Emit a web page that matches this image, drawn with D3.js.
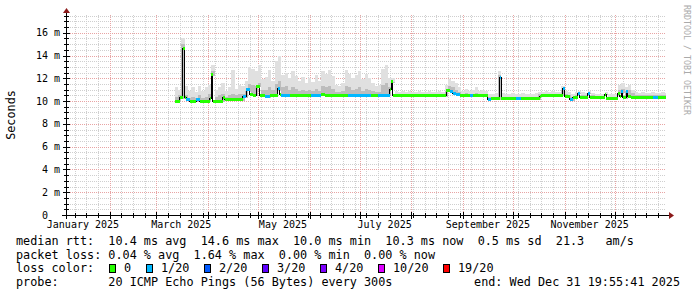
<!DOCTYPE html>
<html>
<head>
<meta charset="utf-8">
<script src="https://cdn.jsdelivr.net/npm/d3@7/dist/d3.min.js"></script>
<style>
  body { margin: 0; background: #fff; }
  svg text { font-family: "DejaVu Sans Mono", monospace; white-space: pre; }
</style>
</head>
<body>
<div id="chart"></div>
<script>
// median rtt: one entry per change, the day it starts, ms, lost pings out of 20
var medDay = ["2025-03-12","2025-03-15","2025-03-17","2025-03-18","2025-03-19","2025-03-21","2025-03-25","2025-03-27",
  "2025-04-02","2025-04-03","2025-04-04","2025-04-10","2025-04-11","2025-04-22","2025-04-24","2025-04-26","2025-04-28",
  "2025-04-30","2025-05-02","2025-05-05","2025-05-08","2025-05-13","2025-05-14","2025-05-15","2025-05-20","2025-06-02",
  "2025-06-08","2025-06-10","2025-06-24","2025-07-08","2025-07-12","2025-07-19","2025-07-20","2025-07-21","2025-08-22",
  "2025-08-24","2025-08-26","2025-08-28","2025-08-30","2025-09-05","2025-09-07","2025-09-16","2025-09-18","2025-09-23",
  "2025-09-24","2025-10-03","2025-10-06","2025-10-17","2025-10-18","2025-10-31","2025-11-01","2025-11-04","2025-11-06",
  "2025-11-09","2025-11-10","2025-11-15","2025-11-16","2025-11-25","2025-11-26","2025-12-03","2025-12-04","2025-12-05",
  "2025-12-06","2025-12-08","2025-12-09","2025-12-11","2025-12-24","2025-12-27"];
var medRtt = [10.0,10.3,14.6,10.3,10.1,10.0,10.1,10.0,
  10.2,12.3,10.0,10.3,10.1,10.4,11.0,10.6,10.5,
  11.3,10.5,10.4,10.5,11.1,10.6,10.5,10.5,10.5,
  10.6,10.5,10.5,10.5,10.5,11.0,11.7,10.45,10.9,
  10.8,10.7,10.6,10.5,10.5,10.5,10.1,10.2,12.1,
  10.2,10.2,10.2,10.4,10.5,11.1,10.4,10.1,10.3,
  10.7,10.3,10.7,10.3,10.6,10.25,10.7,10.4,10.8,
  10.3,10.8,10.4,10.3,10.3,10.3];
var medLoss = [0,0,0,0,1,0,1,0,
  0,0,0,0,0,1,1,0,0,
  0,0,1,0,1,0,1,0,1,
  0,0,1,0,1,0,0,0,0,
  1,1,1,0,1,0,1,0,1,
  0,1,0,0,0,1,0,1,0,
  1,0,1,0,0,0,0,0,1,
  0,1,0,0,1,0];

// smoke in 2 day bins from smokeStart: top of the light part and of the dark part (ms)
var smokeStart = "2025-03-12";
var smokeHi = [
  11.2,11.0,15.5,11.3,10.9,11.2,10.8,11.3,10.9,11.2,
  11.4,13.2,11.0,11.2,11.6,10.9,11.2,12.7,11.1,11.4,
  11.3,11.8,13.0,12.8,12.6,13.2,11.9,12.1,12.7,11.8,
  13.5,14.0,12.3,12.5,12.0,12.6,12.2,11.8,12.1,11.6,
  12.0,11.7,12.3,11.8,12.6,12.4,12.7,12.2,11.4,11.3,
  11.6,12.7,12.4,12.0,12.3,12.6,11.9,12.4,12.0,11.6,
  11.3,11.4,12.8,13.2,12.0,12.0,10.9,10.8,10.9,10.8,
  10.9,10.8,10.8,10.9,10.8,10.8,10.9,10.8,10.8,10.9,
  10.8,11.4,11.9,11.8,11.6,11.2,10.9,11.1,10.9,11.0,
  11.2,10.9,11.0,10.9,10.6,10.6,10.7,12.6,10.7,10.6,
  10.6,10.7,10.6,10.6,10.7,10.6,10.6,10.6,10.7,10.8,
  10.8,10.9,10.8,10.9,10.8,10.8,11.3,10.9,10.8,10.6,
  10.8,10.9,10.8,10.7,10.9,10.7,10.6,10.6,10.6,10.8,
  10.6,10.6,10.6,11.4,11.6,11.2,11.4,11.0,10.8,10.7,
  10.8,10.7,10.7,10.8,10.7,10.7,10.8,10.7];
var smokeCore = [
  10.4,10.5,15.0,10.5,10.3,10.4,10.3,10.5,10.3,10.4,
  10.6,12.6,10.4,10.5,10.6,10.4,10.5,10.6,10.5,10.6,
  10.6,10.9,11.5,11.4,11.3,11.6,11.0,11.0,11.2,11.0,
  11.5,11.8,11.2,11.3,11.0,11.2,11.1,10.9,11.0,10.9,
  11.0,10.9,11.1,10.9,11.3,11.2,11.3,11.1,10.8,10.8,
  10.9,11.3,11.2,11.0,11.1,11.2,10.9,11.1,11.0,10.9,
  10.8,10.8,11.4,11.6,11.2,11.5,10.6,10.6,10.6,10.6,
  10.6,10.6,10.6,10.6,10.6,10.6,10.6,10.6,10.6,10.6,
  10.6,10.9,11.3,11.2,11.0,10.8,10.6,10.7,10.6,10.6,
  10.7,10.6,10.6,10.6,10.4,10.4,10.4,12.3,10.4,10.4,
  10.4,10.4,10.4,10.4,10.4,10.4,10.4,10.4,10.4,10.6,
  10.6,10.6,10.6,10.6,10.6,10.6,11.0,10.6,10.5,10.4,
  10.5,10.6,10.5,10.5,10.6,10.5,10.4,10.4,10.4,10.5,
  10.4,10.4,10.4,11.0,11.1,10.9,11.0,10.7,10.5,10.5,
  10.5,10.5,10.5,10.5,10.5,10.5,10.5,10.5];

var yTicks = [0, 2, 4, 6, 8, 10, 12, 14, 16];
var xLabelMonths = ["2025-01-01", "2025-03-01", "2025-05-01", "2025-07-01", "2025-09-01", "2025-11-01"];

var lossNames = ["0", "1/20", "2/20", "3/20", "4/20", "10/20", "19/20"];
var lossColors = ["#26ff00", "#00b8ff", "#0059ff", "#5e00ff", "#7e00ff", "#dd00ff", "#ff0000"];

var legendLines = [
  "median rtt:  10.4 ms avg  14.6 ms max  10.0 ms min  10.3 ms now  0.5 ms sd  21.3   am/s",
  "packet loss: 0.04 % avg  1.64 % max  0.00 % min  0.00 % now",
  "loss color:",
  "probe:       20 ICMP Echo Pings (56 Bytes) every 300s"
];
var endText = "end: Wed Dec 31 19:55:41 2025";

var width = 697, height = 297;
var plot = {left: 66, right: 666, top: 15, bottom: 215};
var parse = d3.utcParse("%Y-%m-%d");

var svg = d3.select("#chart").append("svg")
    .attr("width", width)
    .attr("height", height);

var x = d3.scaleUtc()
    .domain([new Date(Date.UTC(2025, 0, 5, 19, 55, 41)), new Date(Date.UTC(2025, 11, 31, 19, 55, 41))])
    .range([plot.left, plot.right]);
var y = d3.scaleLinear()
    .domain([0, 17.56])
    .range([plot.bottom, plot.top]);

function px(v) { return Math.round(v) + 0.5; }

// grid: weeks and half ms dotted grey, months and 2 ms dotted red
var weeks = d3.utcSaturday.range(x.domain()[0], x.domain()[1]);
var months = d3.utcMonth.range(x.domain()[0], x.domain()[1]);
var halfMs = y.ticks(36).filter(function (v) { return v % 2 !== 0; });

var grid = svg.append("g").attr("shape-rendering", "crispEdges");
grid.selectAll(".vmin").data(weeks).enter().append("line")
    .attr("x1", function (d) { return px(x(d)); })
    .attr("x2", function (d) { return px(x(d)); })
    .attr("y1", plot.top).attr("y2", plot.bottom)
    .attr("stroke", "#cfcfcf").attr("stroke-dasharray", "1,1");
grid.selectAll(".hmin").data(halfMs).enter().append("line")
    .attr("x1", plot.left).attr("x2", plot.right)
    .attr("y1", function (d) { return px(y(d)); })
    .attr("y2", function (d) { return px(y(d)); })
    .attr("stroke", "#cfcfcf").attr("stroke-dasharray", "1,1");
grid.selectAll(".vmaj").data(months).enter().append("line")
    .attr("x1", function (d) { return px(x(d)); })
    .attr("x2", function (d) { return px(x(d)); })
    .attr("y1", plot.top).attr("y2", plot.bottom)
    .attr("stroke", "#e8a4a4").attr("stroke-dasharray", "1,1");
grid.selectAll(".hmaj").data(yTicks).enter().append("line")
    .attr("x1", plot.left).attr("x2", plot.right)
    .attr("y1", function (d) { return px(y(d)); })
    .attr("y2", function (d) { return px(y(d)); })
    .attr("stroke", "#e8a4a4").attr("stroke-dasharray", "1,1");

// data
svg.append("clipPath").attr("id", "clip").append("rect")
    .attr("x", plot.left).attr("y", plot.top)
    .attr("width", plot.right - plot.left).attr("height", plot.bottom - plot.top);
var area = svg.append("g").attr("clip-path", "url(#clip)").attr("shape-rendering", "crispEdges");

var med = medDay.map(function (d, i) { return {t: parse(d), v: medRtt[i], loss: medLoss[i]}; });
var bis = d3.bisector(function (d) { return d.t; }).right;
function medAt(t) { return med[Math.max(0, bis(med, t) - 1)].v; }

var start = parse(smokeStart);
var smoke = smokeHi.map(function (h, i) {
    var t0 = d3.utcDay.offset(start, 2 * i);
    return {t0: t0, t1: d3.utcDay.offset(t0, 2), hi: h, core: smokeCore[i], base: medAt(t0)};
});

function bar(key, color) {
    area.append("g").selectAll("rect").data(smoke).enter().append("rect")
        .attr("x", function (d) { return x(d.t0); })
        .attr("width", function (d) { return x(d.t1) - x(d.t0); })
        .attr("y", function (d) { return y(Math.max(d[key], d.base)); })
        .attr("height", function (d) { return y(d.base) - y(Math.max(d[key], d.base)) + 1; })
        .attr("fill", color);
}
bar("hi", "#e0e0e0");
bar("core", "#bdbdbd");

var lossColor = d3.scaleThreshold().domain([1, 2, 3, 4, 10, 19]).range(lossColors);
var end = x.domain()[1];
var medLine = med.concat([{t: end, v: med[med.length - 1].v}]);

area.append("path")
    .datum(medLine)
    .attr("fill", "none")
    .attr("stroke", "#000")
    .attr("stroke-width", 1)
    .attr("d", d3.line()
        .x(function (d) { return x(d.t); })
        .y(function (d) { return y(d.v); })
        .curve(d3.curveStepAfter));

area.append("g").selectAll("line").data(med).enter().append("line")
    .attr("x1", function (d) { return x(d.t); })
    .attr("x2", function (d, i) { return x(i < med.length - 1 ? med[i + 1].t : end); })
    .attr("y1", function (d) { return y(d.v); })
    .attr("y2", function (d) { return y(d.v); })
    .attr("stroke", function (d) { return lossColor(d.loss); })
    .attr("stroke-width", 3);

// axes
var axis = svg.append("g").attr("shape-rendering", "crispEdges");
axis.append("line").attr("x1", plot.left - 4).attr("x2", plot.right + 3)
    .attr("y1", px(plot.bottom)).attr("y2", px(plot.bottom)).attr("stroke", "#000");
axis.append("line").attr("x1", px(plot.left)).attr("x2", px(plot.left))
    .attr("y1", plot.bottom + 4).attr("y2", plot.top - 3).attr("stroke", "#000");
axis.selectAll(".yt").data(y.ticks(36)).enter().append("line")
    .attr("x1", function (d) { return d % 2 === 0 ? plot.left - 3 : plot.left - 2; })
    .attr("x2", function (d) { return d % 2 === 0 ? plot.left + 4 : plot.left + 3; })
    .attr("y1", function (d) { return px(y(d)); })
    .attr("y2", function (d) { return px(y(d)); })
    .attr("stroke", "#000");
axis.selectAll(".xt").data(weeks).enter().append("line")
    .attr("x1", function (d) { return px(x(d)); })
    .attr("x2", function (d) { return px(x(d)); })
    .attr("y1", plot.bottom - 2).attr("y2", plot.bottom + 3)
    .attr("stroke", "#000");
axis.selectAll(".xm").data(months).enter().append("line")
    .attr("x1", function (d) { return px(x(d)); })
    .attr("x2", function (d) { return px(x(d)); })
    .attr("y1", plot.bottom - 3).attr("y2", plot.bottom + 4)
    .attr("stroke", "#000");

svg.append("path")
    .attr("d", "M" + (plot.right + 3) + "," + (plot.bottom - 3) + "l5,3.5l-5,3.5z")
    .attr("fill", "#8b1a1a");
svg.append("path")
    .attr("d", "M" + (plot.left - 3) + "," + (plot.top - 2) + "l3.5,-5l3.5,5z")
    .attr("fill", "#8b1a1a");

svg.selectAll(".ylab").data(yTicks).enter().append("text")
    .attr("x", 36)
    .attr("y", function (d) { return y(d) + 3.5; })
    .style("font-size", "10px")
    .text(function (d) { return d === 0 ? " 0" : (d < 10 ? " " : "") + d + " m"; });

svg.selectAll(".xlab").data(xLabelMonths).enter().append("text")
    .attr("x", function (d) { return x(d3.utcDay.offset(parse(d), 15)); })
    .attr("y", 228)
    .attr("text-anchor", "middle")
    .style("font-size", "10px")
    .text(function (d) { return d3.utcFormat("%B %Y")(parse(d)); });

svg.append("text")
    .attr("transform", "translate(14.5," + ((plot.top + plot.bottom) / 2) + ") rotate(-90)")
    .attr("text-anchor", "middle")
    .style("font-size", "11.8px")
    .text("Seconds");

svg.append("text")
    .attr("transform", "translate(684,5) rotate(90)")
    .style("font-size", "8.3px")
    .attr("fill", "#aaaaaa")
    .text("RRDTOOL / TOBI OETIKER");

// legend
var baselines = [245, 258.7, 272.4, 286];
svg.selectAll(".leg").data(legendLines).enter().append("text")
    .attr("x", 16)
    .attr("y", function (d, i) { return baselines[i]; })
    .style("font-size", "11.8px")
    .text(function (d) { return d; });

svg.append("text")
    .attr("x", 680)
    .attr("y", baselines[3])
    .attr("text-anchor", "end")
    .style("font-size", "11.8px")
    .text(endText);

var lx = 16 + svg.selectAll("text").filter(function (d) { return d === "loss color:"; }).node().getComputedTextLength();
lossNames.forEach(function (name, i) {
    var bx = Math.round(lx + 14.5);
    svg.append("rect")
        .attr("x", bx + 0.5).attr("y", 264.5)
        .attr("width", 6).attr("height", 8)
        .attr("fill", lossColors[i]).attr("stroke", "#000")
        .attr("shape-rendering", "crispEdges");
    var t = svg.append("text")
        .attr("x", bx + 15)
        .attr("y", baselines[2])
        .style("font-size", "11.8px")
        .text(name);
    lx = bx + 15 + t.node().getComputedTextLength();
});
</script>
</body>
</html>
